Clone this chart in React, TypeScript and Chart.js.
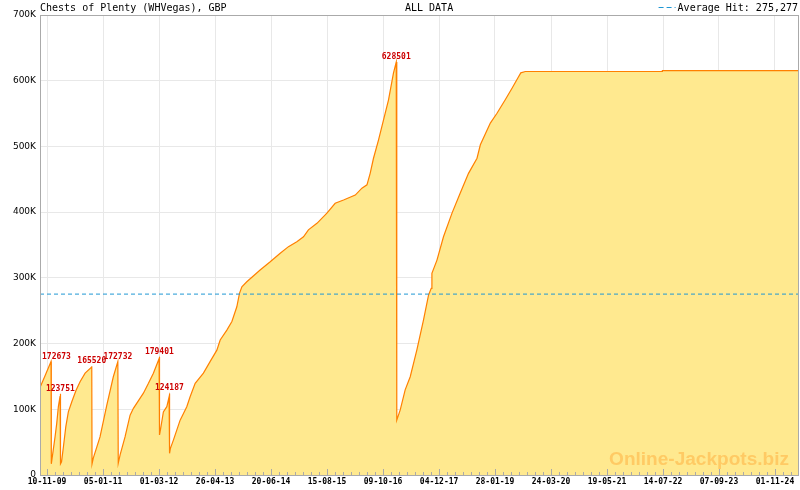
import { useEffect, useRef } from "react";
import { Chart, registerables } from "chart.js";

Chart.register(...registerables);

const TITLE = "Chests of Plenty (WHVegas), GBP";
const SUBTITLE = "ALL DATA";
const AVERAGE_LABEL = "Average Hit: 275,277";
const AVERAGE_HIT = 275277;
const WATERMARK = "Online-Jackpots.biz";

const X_START = "2009-09-18";
const X_END = "2025-04-23";

const dates = [
  "2009-09-18", "2009-10-26", "2009-12-10", "2009-12-12", "2009-12-23",
  "2010-01-09", "2010-01-22", "2010-02-03", "2010-02-16", "2010-02-18",
  "2010-02-20", "2010-02-27", "2010-03-13", "2010-03-31", "2010-04-19",
  "2010-05-15", "2010-06-16", "2010-07-16", "2010-08-23", "2010-10-09",
  "2010-10-12", "2010-10-14", "2010-10-24", "2010-12-13", "2011-02-02",
  "2011-03-23", "2011-04-26", "2011-04-29", "2011-05-13", "2011-06-19",
  "2011-07-27", "2011-08-21", "2011-11-04", "2011-12-12", "2012-01-18",
  "2012-03-01", "2012-03-03", "2012-03-05", "2012-03-11", "2012-04-02",
  "2012-04-28", "2012-05-15", "2012-05-17", "2012-05-20", "2012-05-25",
  "2012-06-17", "2012-08-06", "2012-09-25", "2012-10-20", "2012-11-27",
  "2013-01-28", "2013-03-19", "2013-05-09", "2013-06-03", "2013-07-23",
  "2013-08-30", "2013-10-06", "2013-10-26", "2013-11-13", "2013-12-20",
  "2014-03-30", "2014-06-14", "2014-08-28", "2014-10-29", "2014-12-31",
  "2015-02-19", "2015-03-28", "2015-05-31", "2015-08-14", "2015-10-15",
  "2015-12-17", "2016-03-14", "2016-05-03", "2016-06-10", "2016-07-04",
  "2016-07-29", "2016-09-05", "2016-10-12", "2016-11-19", "2016-12-26",
  "2017-01-16", "2017-01-20", "2017-02-15", "2017-03-24", "2017-05-01",
  "2017-06-20", "2017-08-09", "2017-09-16", "2017-10-06", "2017-10-11",
  "2017-11-18", "2018-01-06", "2018-03-11", "2018-05-12", "2018-07-13",
  "2018-09-15", "2018-10-10", "2018-12-24", "2019-02-12", "2019-04-15",
  "2019-06-05", "2019-07-24", "2019-08-10", "2019-09-13", "2022-07-08",
  "2022-07-09", "2025-04-23",
];

const values = [
  133000, 151000, 172673, 17000, 33000,
  58000, 79000, 104000, 120000, 123751,
  17000, 20000, 43000, 73500, 96000,
  111500, 129000, 142000, 155000, 164000,
  165520, 17000, 26000, 58000, 106500,
  149500, 172732, 18000, 30500, 58000,
  91000, 101500, 124500, 139500, 155000,
  177000, 179401, 61000, 68500, 96000,
  104000, 119000, 124187, 33000, 40500,
  53500, 83500, 104000, 119000, 139500,
  155000, 172500, 190000, 205500, 220500,
  233500, 256000, 276500, 286500, 294000,
  312000, 324500, 337500, 347500, 355000,
  362500, 373000, 383000, 398500, 413500,
  418500, 426000, 436500, 441500, 459000,
  482000, 510000, 540000, 571000, 611500,
  628501, 83500, 99000, 129500, 149500,
  190500, 236000, 274000, 284000, 307000,
  327000, 362500, 398500, 429000, 459000,
  482000, 502500, 535500, 550500, 571000,
  588500, 606000, 612000, 614000, 614000,
  615500, 615500,
];

const peakLabels = [172673, 123751, 165520, 172732, 179401, 124187, 628501];

const xTickLabels = [
  "10-11-09", "05-01-11", "01-03-12", "26-04-13", "20-06-14", "15-08-15", "09-10-16",
  "04-12-17", "28-01-19", "24-03-20", "19-05-21", "14-07-22", "07-09-23", "01-11-24",
];

const yTickValues = [0, 100000, 200000, 300000, 400000, 500000, 600000, 700000];

const isoToMs = (s: string) => {
  const [y, m, d] = s.split("-").map(Number);
  return Date.UTC(y, m - 1, d);
};
const tickToMs = (s: string) => {
  const [d, m, y] = s.split("-").map(Number);
  return Date.UTC(2000 + y, m - 1, d);
};
const pad = (n: number) => (n < 10 ? "0" + n : "" + n);
const fmtTick = (v: number) => {
  const dt = new Date(v);
  return pad(dt.getUTCDate()) + "-" + pad(dt.getUTCMonth() + 1) + "-" + pad(dt.getUTCFullYear() % 100);
};

const MONO = '"DejaVu Sans Mono", monospace';
const AVG_COLOR = "#1f97d4";

const overlayPlugin = {
  id: "overlay",
  afterDatasetsDraw(chart: any) {
    const { ctx, chartArea: a, scales } = chart;
    const xs = scales.x;
    const ys = scales.y;
    ctx.save();
    // watermark
    ctx.font = 'bold 20px "Liberation Sans", Arial, sans-serif';
    const ww = ctx.measureText(WATERMARK).width;
    const size = (20 * 180) / ww;
    ctx.font = `bold ${size}px "Liberation Sans", Arial, sans-serif`;
    ctx.fillStyle = "#ffca64";
    ctx.textAlign = "right";
    ctx.textBaseline = "alphabetic";
    ctx.fillText(WATERMARK, a.right - 9, a.bottom - 10);

    // peak labels
    ctx.font = "bold 8px " + MONO;
    ctx.fillStyle = "#cc0000";
    ctx.textAlign = "center";
    ctx.textBaseline = "bottom";
    peakLabels.forEach((p) => {
      const i = values.indexOf(p);
      if (i < 0) return;
      const px = xs.getPixelForValue(isoToMs(dates[i]));
      const py = ys.getPixelForValue(values[i]);
      const tw = ctx.measureText(String(p)).width;
      const cx = Math.max(px, a.left + 2 + tw / 2);
      ctx.fillText(String(p), cx, py - 1);
    });

    // frame
    ctx.strokeStyle = "#aaaaaa";
    ctx.lineWidth = 1;
    ctx.strokeRect(a.left + 0.5, a.top + 0.5, a.right - a.left, a.bottom - a.top);

    // x ticks (inside, upward)
    const majors = xTickLabels.map(tickToMs);
    const step = (majors[1] - majors[0]) / 7;
    const minT = isoToMs(X_START);
    const maxT = isoToMs(X_END);
    ctx.beginPath();
    for (let t = majors[0]; t >= minT; t -= step) {
      const px = Math.round(xs.getPixelForValue(t)) + 0.5;
      ctx.moveTo(px, a.bottom);
      ctx.lineTo(px, a.bottom - 3);
    }
    for (let t = majors[0] + step; t <= maxT; t += step) {
      const px = Math.round(xs.getPixelForValue(t)) + 0.5;
      ctx.moveTo(px, a.bottom);
      ctx.lineTo(px, a.bottom - 3);
    }
    majors.forEach((t) => {
      const px = Math.round(xs.getPixelForValue(t)) + 0.5;
      ctx.moveTo(px, a.bottom);
      ctx.lineTo(px, a.bottom - 6);
    });
    ctx.stroke();
    ctx.restore();
  },
  afterDraw(chart: any) {
    const { ctx } = chart;
    ctx.save();
    ctx.font = "10px " + MONO;
    ctx.fillStyle = "#000000";
    ctx.textBaseline = "alphabetic";
    ctx.textAlign = "left";
    ctx.fillText(TITLE, 40, 11);
    ctx.fillText(SUBTITLE, 405, 11);
    ctx.textAlign = "right";
    ctx.fillText(AVERAGE_LABEL, 798, 11);
    const lw = ctx.measureText(AVERAGE_LABEL).width;
    ctx.strokeStyle = AVG_COLOR;
    ctx.lineWidth = 1;
    ctx.setLineDash([5, 3]);
    ctx.beginPath();
    ctx.moveTo(798 - lw - 19, 7.5);
    ctx.lineTo(798 - lw - 2, 7.5);
    ctx.stroke();
    ctx.restore();
  },
};

export default function App() {
  const ref = useRef<HTMLCanvasElement | null>(null);
  useEffect(() => {
    document.body.style.margin = "0";
    const canvas = ref.current;
    if (!canvas) return;
    const minT = isoToMs(X_START);
    const maxT = isoToMs(X_END);
    const chart = new Chart(canvas, {
      type: "line",
      data: {
        datasets: [
          {
            label: "Average",
            data: [
              { x: minT, y: AVERAGE_HIT },
              { x: maxT, y: AVERAGE_HIT },
            ],
            borderColor: AVG_COLOR,
            borderWidth: 1,
            borderDash: [4, 3],
            pointRadius: 0,
            fill: false,
            order: 0,
          },
          {
            label: "Jackpot",
            data: dates.map((d, i) => ({ x: isoToMs(d), y: values[i] })),
            borderColor: "#ff8000",
            backgroundColor: "#ffe98f",
            borderWidth: 1.2,
            pointRadius: 0,
            tension: 0,
            fill: "origin",
            order: 1,
          },
        ],
      },
      options: {
        animation: false,
        responsive: false,
        devicePixelRatio: 1,
        layout: { padding: { top: 15, right: 2, left: 0, bottom: 0 } },
        plugins: { legend: { display: false }, tooltip: { enabled: false } },
        scales: {
          x: {
            type: "linear",
            min: minT,
            max: maxT,
            afterBuildTicks: (scale: any) => {
              scale.ticks = xTickLabels.map((l) => ({ value: tickToMs(l) }));
            },
            afterFit: (scale: any) => {
              scale.height = 15;
            },
            grid: { color: "#e8e8e8", drawTicks: false },
            border: { display: false },
            ticks: {
              autoSkip: false,
              maxRotation: 0,
              padding: 2,
              color: "#000000",
              font: { family: MONO, size: 8, weight: "bold" },
              callback: (v: any) => fmtTick(Number(v)),
            },
          },
          y: {
            min: 0,
            max: 700000,
            afterBuildTicks: (scale: any) => {
              scale.ticks = yTickValues.map((v) => ({ value: v }));
            },
            afterFit: (scale: any) => {
              scale.width = 40;
            },
            grid: { color: "#e8e8e8", drawTicks: false },
            border: { display: false },
            ticks: {
              padding: 4,
              color: "#000000",
              font: { family: '"DejaVu Sans", sans-serif', size: 9 },
              callback: (v: any) => (Number(v) === 0 ? "0" : Number(v) / 1000 + "K"),
            },
          },
        },
      },
      plugins: [overlayPlugin],
    });
    return () => chart.destroy();
  }, []);
  return <canvas ref={ref} width={800} height={490} style={{ display: "block" }} />;
}
